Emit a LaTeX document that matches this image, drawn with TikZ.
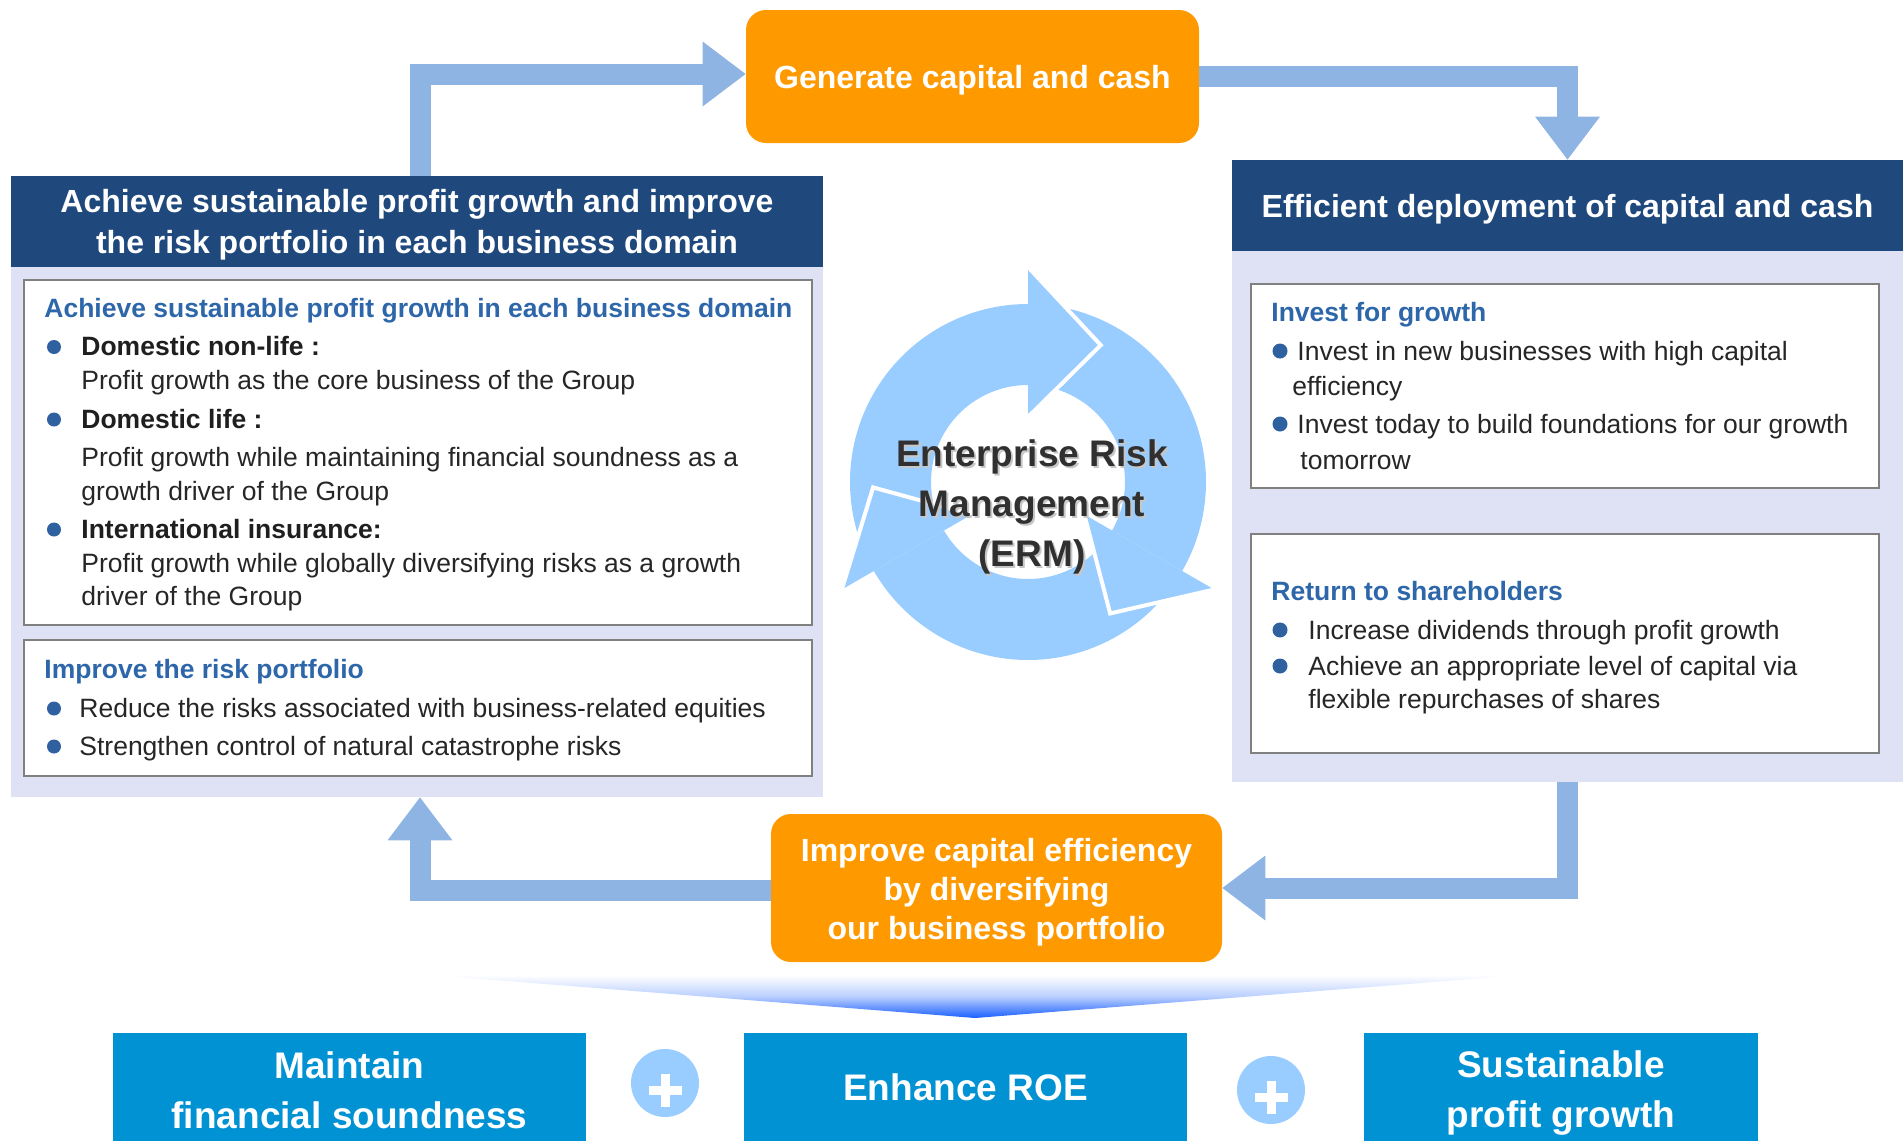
\documentclass[tikz,border=0pt]{standalone}
\usepackage{fontspec}
\setmainfont{Liberation Sans}
\usetikzlibrary{arrows.meta}

\definecolor{hdrblue}{RGB}{31,73,125}
\definecolor{panelbg}{RGB}{223,225,245}
\definecolor{headblue}{RGB}{46,102,170}
\definecolor{dotblue}{RGB}{47,96,160}
\definecolor{bodygray}{RGB}{38,38,38}
\definecolor{flowblue}{RGB}{142,180,227}
\definecolor{orangebox}{RGB}{255,153,0}
\definecolor{ringblue}{RGB}{153,204,255}
\definecolor{goalblue}{RGB}{0,146,211}
\definecolor{chevblue}{RGB}{25,95,255}
\definecolor{ermgray}{RGB}{48,48,48}

\newcommand{\txtbody}{\fontsize{13.25pt}{16pt}\selectfont}
\newcommand{\txthead}{\fontsize{16pt}{20.5pt}\selectfont\bfseries}
\newcommand{\txtbig}{\fontsize{18.5pt}{25pt}\selectfont\bfseries}

\tikzset{
  panel/.style={fill=panelbg, inner sep=0pt},
  hdr/.style={fill=hdrblue, text=white, font=\txthead, align=center, inner sep=0pt},
  card/.style={fill=white, draw=black!50, line width=1pt, inner sep=0pt},
  orangebtn/.style={fill=orangebox, rounded corners=10pt, text=white, font=\txthead, align=center, inner sep=0pt},
  goal/.style={fill=goalblue, text=white, font=\txtbig, align=center, inner sep=0pt},
  boxtxt/.style={text=white, align=center, inner sep=0pt},
  flow/.style={draw=flowblue, line width=10.5pt, -{Triangle[width=32.5pt,length=21.5pt,line width=0pt]}},
  bodytxt/.style={anchor=base west, inner sep=0pt, font=\txtbody, text=bodygray},
  headtxt/.style={anchor=base west, inner sep=0pt, font=\txtbody\bfseries, text=headblue},
  plusdisc/.style={circle, fill=ringblue, minimum size=34pt, inner sep=0pt},
  ermtxt/.style={align=center, inner sep=0pt, font=\fontsize{18.5pt}{25pt}\selectfont\bfseries, text=ermgray}
}

\begin{document}
\begin{tikzpicture}[x=0.5pt,y=-0.5pt]
\useasboundingbox (0,0) rectangle (1903,1141);

% left panel
\node[panel, minimum width=406pt, minimum height=310.5pt] (lp) at (417,486.5) {};
\node[hdr, minimum width=406pt, minimum height=45.5pt] (lh) at (417,221.5) {};
\node[boxtxt, font=\txthead] (lht) at (417,224.5) {Achieve sustainable profit growth and improve\\the risk portfolio in each business domain};
\node[card, minimum width=394pt, minimum height=172.5pt] (lb1) at (418,452.5) {};
\node[card, minimum width=394pt, minimum height=68pt] (lb2) at (418,708) {};

\node[headtxt] (lt1) at (44,317) {Achieve sustainable profit growth in each business domain};
\foreach \y/\t [count=\i] in {355.5/Domestic non-life :, 428/Domestic life :, 538/International insurance:} {
  \fill[dotblue] (54,\y-8.5) circle (3.5pt);
  \node[bodytxt, font=\txtbody\bfseries, text=black!88] (ld\i) at (81,\y) {\t};
}
\foreach \y/\t [count=\i] in {389/Profit growth as the core business of the Group, 466/Profit growth while maintaining financial soundness as a, 500/growth driver of the Group, 572/Profit growth while globally diversifying risks as a growth, 605/driver of the Group}
  \node[bodytxt] (lx\i) at (81,\y) {\t};

\node[headtxt] (lt2) at (44,678) {Improve the risk portfolio};
\foreach \y/\t [count=\i] in {717/Reduce the risks associated with business-related equities, 755/Strengthen control of natural catastrophe risks} {
  \fill[dotblue] (54,\y-8.5) circle (3.5pt);
  \node[bodytxt] (lr\i) at (79,\y) {\t};
}

% right panel
\node[panel, minimum width=335.5pt, minimum height=311pt] (rp) at (1567.5,471) {};
\node[hdr, text depth=0pt, minimum width=335.5pt, minimum height=45.5pt] (rh) at (1567.5,205.5) {Efficient deployment of capital and cash};
\node[card, minimum width=314pt, minimum height=102pt] (rb1) at (1565,386) {};
\node[card, minimum width=314pt, minimum height=109.5pt] (rb2) at (1565,643.5) {};

\node[headtxt] (rt1) at (1271,321) {Invest for growth};
\foreach \x/\y/\t [count=\i] in {1297/360/Invest in new businesses with high capital, 1292/395/efficiency, 1297/433/Invest today to build foundations for our growth, 1300/469/tomorrow}
  \node[bodytxt] (ri\i) at (\x,\y) {\t};
\foreach \y in {360,433} \fill[dotblue] (1280,\y-9) circle (3.75pt);

\node[headtxt] (rt2) at (1271,600) {Return to shareholders};
\foreach \y/\t [count=\i] in {639/Increase dividends through profit growth, 675/Achieve an appropriate level of capital via, 708/flexible repurchases of shares}
  \node[bodytxt] (rs\i) at (1308,\y) {\t};
\foreach \y in {639,675} \fill[dotblue] (1280,\y-9) circle (3.75pt);

% orange steps and the flow between them
\node[orangebtn, text depth=0pt, minimum width=226.5pt, minimum height=66.5pt] (gen) at (972.5,76.5) {Generate capital and cash};
\node[orangebtn, minimum width=225.5pt, minimum height=74pt] (imp) at (996.5,888) {};
\node[boxtxt, font=\fontsize{16pt}{19.5pt}\selectfont\bfseries] (impt) at (996.5,892) {Improve capital efficiency\\by diversifying\\our business portfolio};

\draw[flow] ([xshift=1.5pt]lp.north) |- ([yshift=1.25pt]gen.west);
\draw[flow] (gen.east) -| (rp.north);
\draw[flow] (rp.south) |- (imp.east);
\draw[flow] ([yshift=-1pt]imp.west) -| ([xshift=1.5pt]lp.south);

% ERM cycle
\coordinate (ermc) at (1028,482);
\begin{scope}[shift={(ermc)}]
  \foreach \b in {90,-30,210}
    \fill[ringblue] (\b+115:89pt) arc[start angle=\b+115, end angle=\b, radius=89pt]
      -- (\b:48.5pt) arc[start angle=\b, end angle=\b+115, radius=48.5pt] -- cycle;
  \foreach \b in {90,-30,210} {
    \fill[ringblue] (\b:107.5pt) -- (\b-28:77.5pt) -- (\b:32.5pt) -- cycle;
    \draw[white, line width=2pt] (\b:107.5pt) -- (\b-28:77.5pt) -- (\b:32.5pt);
  }
\end{scope}
\node[ermtxt, text=black!22, xshift=1pt, yshift=-1pt] (ermsh) at (1032,507) {Enterprise Risk\\Management\\(ERM)};
\node[ermtxt] (erm) at (1032,507) {Enterprise Risk\\Management\\(ERM)};

% targets
\shade[top color=white, bottom color=chevblue, middle color=chevblue!30] (431,975) -- (1523,975) -- (975,1018) -- cycle;

\node[goal, minimum width=236.5pt, minimum height=54pt] (g1) at (349.5,1087) {};
\node[goal, text depth=0pt, minimum width=221.5pt, minimum height=54pt] (g2) at (965.5,1087) {Enhance ROE};
\node[goal, minimum width=197pt, minimum height=54pt] (g3) at (1561,1087) {};
\node[boxtxt, font=\txtbig] (g1t) at (349.5,1090) {Maintain\\financial soundness};
\node[boxtxt, font=\txtbig] (g3t) at (1561,1093) {Sustainable\\profit growth};

\foreach \n/\x/\y in {plus1/665/1083, plus2/1271/1090} {
  \node[plusdisc] (\n) at (\x,\y) {};
  \fill[white] (\x-16.5,\y+3) rectangle (\x+16.5,\y+12);
  \fill[white] (\x-4,\y-9) rectangle (\x+5,\y+24);
}
\end{tikzpicture}
\end{document}
